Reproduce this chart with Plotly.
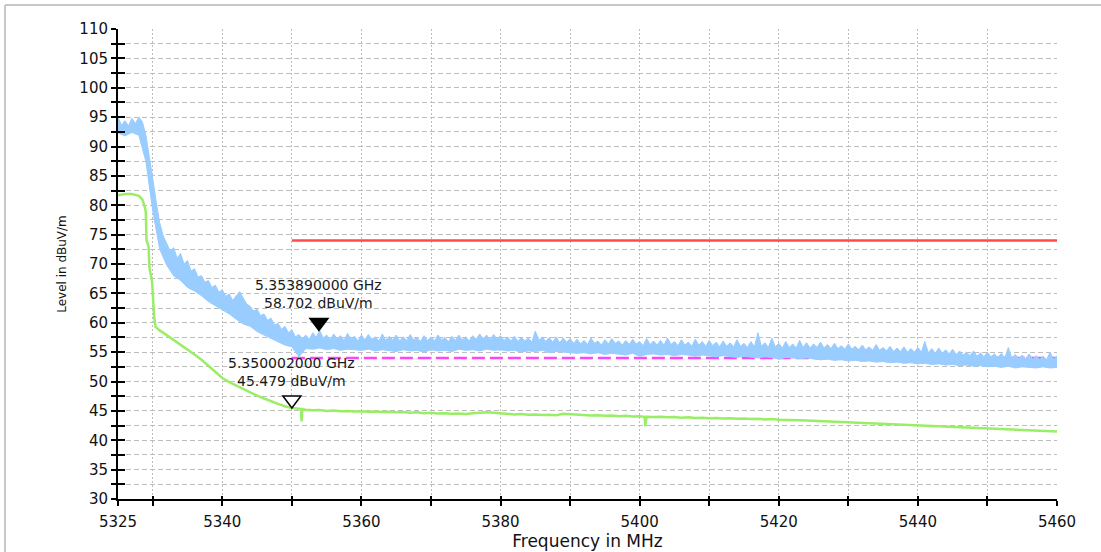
import numpy as np
import plotly.graph_objects as go

# ---------------- data ----------------
x_tick_vals = [5325, 5330, 5340, 5350, 5360, 5370, 5380, 5390, 5400, 5410, 5420, 5430, 5440, 5450, 5460]
x_tick_text = ['5325', '', '5340', '', '5360', '', '5380', '', '5400', '', '5420', '', '5440', '', '5460']
y_major = [30, 35, 40, 45, 50, 55, 60, 65, 70, 75, 80, 85, 90, 95, 100, 105, 110]

# peak detector trace (blue): upper envelope every 0.5 MHz, lower envelope every 1 MHz, from 5325 MHz
peak_start = 5325.0
peak_upper = [
    95.0, 93.6, 94.4, 93.5, 94.8, 93.9, 95.0, 94.2, 92.0, 88.5,
    84.5, 80.5, 77.0, 74.8, 73.5, 72.2, 72.8, 71.0, 71.8, 70.0,
    70.6, 68.8, 69.2, 67.8, 68.0, 66.9, 67.2, 66.0, 66.4, 65.2,
    65.6, 64.5, 64.9, 63.8, 64.6, 65.3, 64.2, 63.2, 62.8, 62.0,
    62.3, 61.2, 61.5, 60.4, 60.8, 59.6, 59.9, 58.9, 59.4, 58.3,
    58.8, 57.6, 58.0, 57.3, 57.9, 57.2, 58.3, 57.5, 58.7, 57.4,
    57.9, 57.1, 58.1, 57.3, 57.8, 57.0, 58.2, 57.2, 57.7, 56.9,
    57.9, 57.1, 58.0, 57.2, 57.6, 56.9, 58.1, 57.0, 57.7, 57.1,
    57.9, 56.9, 57.6, 57.0, 58.0, 57.1, 57.5, 56.8, 57.8, 57.0,
    57.6, 56.9, 57.9, 57.1, 57.5, 56.8, 57.7, 57.0, 57.9, 57.1,
    57.6, 56.9, 57.8, 57.2, 58.1, 57.3, 57.9, 57.1, 58.0, 57.2,
    57.8, 57.0, 57.6, 56.9, 57.7, 56.8, 57.5, 56.9, 57.4, 56.7,
    58.6, 57.0, 57.6, 56.8, 57.5, 56.7, 57.6, 56.6, 57.4, 56.7,
    57.3, 56.5, 57.2, 56.4, 57.0, 56.3, 57.4, 56.5, 56.9, 56.2,
    57.1, 56.4, 57.3, 56.5, 56.9, 56.2, 57.0, 56.3, 57.2, 56.4,
    56.8, 56.1, 57.3, 56.3, 56.9, 56.2, 57.0, 56.2, 57.4, 56.3,
    56.8, 56.1, 57.1, 56.2, 56.7, 56.0, 57.2, 56.2, 56.8, 56.0,
    57.0, 56.1, 56.7, 55.9, 56.9, 56.0, 56.6, 55.9, 57.1, 56.0,
    56.5, 55.8, 56.8, 55.9, 58.3, 56.0, 56.6, 55.8, 57.4, 55.9,
    56.5, 55.7, 56.8, 55.8, 56.4, 55.7, 57.0, 55.8, 56.6, 55.7,
    56.4, 55.8, 56.7, 55.7, 56.3, 55.6, 56.5, 55.6, 56.1, 55.5,
    56.4, 55.5, 56.0, 55.4, 56.2, 55.4, 55.9, 55.3, 56.3, 55.3,
    55.8, 55.2, 56.0, 55.1, 55.7, 55.1, 55.9, 55.0, 55.6, 55.0,
    55.8, 55.0, 56.8, 54.9, 55.6, 54.8, 55.7, 54.8, 55.4, 54.7,
    55.5, 54.6, 55.2, 54.5, 55.0, 54.4, 55.2, 54.3, 54.9, 54.2,
    55.0, 54.2, 54.7, 54.1, 54.8, 54.0, 55.8, 54.0, 54.6, 53.9,
    54.5, 53.9, 54.7, 53.8, 54.4, 53.8, 54.3, 53.7, 55.0, 53.8,
    54.4,
]
peak_lower = [
    92.3, 91.8, 92.4, 91.9, 87.5, 79.0, 72.5, 69.8, 68.0, 67.2,
    66.0, 65.4, 64.6, 63.6, 62.9, 62.2, 61.5, 60.6, 59.8, 59.4,
    58.5, 57.9, 57.3, 56.8, 56.2, 55.9, 54.2, 55.6, 55.5, 55.7,
    55.4, 55.6, 55.3, 55.5, 55.4, 55.3, 55.5, 55.2, 55.4, 55.3,
    55.1, 55.4, 55.2, 55.3, 55.0, 55.4, 55.2, 55.3, 55.1, 55.5,
    55.3, 55.4, 55.2, 55.5, 55.3, 55.4, 55.2, 55.3, 55.0, 55.2,
    55.1, 55.3, 54.9, 55.1, 55.0, 54.9, 54.8, 54.9, 54.7, 54.9,
    54.6, 54.8, 54.7, 54.5, 54.8, 54.3, 54.6, 54.7, 54.5, 54.6,
    54.4, 54.6, 54.5, 54.3, 54.5, 54.4, 54.2, 54.4, 54.3, 54.1,
    54.3, 54.2, 54.0, 54.2, 54.1, 53.8, 54.1, 54.0, 53.9, 54.0,
    53.8, 53.7, 53.8, 53.6, 53.7, 53.5, 53.6, 53.4, 53.5, 53.3,
    53.4, 53.2, 53.3, 53.1, 53.2, 53.0, 53.1, 52.9, 53.0, 52.8,
    52.9, 52.7, 52.8, 52.6, 52.7, 52.5, 52.6, 52.4, 52.6, 52.3,
    52.5, 52.4, 52.3, 52.5, 52.3, 52.4,
]

# average detector trace (green)
avg_freq = ([5325, 5326, 5327, 5328, 5328.5, 5328.9, 5329.0, 5329.1, 5329.4, 5329.5, 5329.9,
             5330.0, 5330.2, 5330.4]
            + list(range(5331, 5352))
            + [5351.3, 5351.4, 5351.5]
            + list(range(5352, 5401))
            + [5400.7, 5400.8, 5400.9]
            + list(range(5401, 5461)))
avg_level = [
    81.7, 81.9, 81.9, 81.6, 81.0, 79.5, 78.7, 74.0, 73.0, 69.5, 67.0,
    63.9, 61.0, 59.3,
    58.7, 57.9, 57.1, 56.3, 55.4, 54.6, 53.7, 52.7, 51.6, 50.6,
    49.9, 49.3, 48.7, 48.1, 47.6, 47.1, 46.6, 46.2, 45.8, 45.48,
    45.35,
    45.3, 43.2, 45.3,
    45.2, 45.1, 45.15, 45.0, 45.05, 44.95, 45.0, 44.9, 44.95, 44.85,
    44.9, 44.8, 44.85, 44.75, 44.8, 44.7, 44.75, 44.6, 44.7, 44.55,
    44.6, 44.5, 44.55, 44.45, 44.6, 44.7, 44.75, 44.7, 44.6, 44.5,
    44.4, 44.45, 44.35, 44.4, 44.3, 44.35, 44.25, 44.5, 44.4, 44.3,
    44.25, 44.2, 44.25, 44.15, 44.2, 44.1, 44.15, 44.05, 44.1,
    44.0, 42.4, 44.0,
    44.0, 43.95, 44.0, 43.9, 43.95, 43.85, 43.9, 43.8, 43.85, 43.75,
    43.8, 43.7, 43.75, 43.65, 43.7, 43.6, 43.65, 43.55, 43.6, 43.5,
    43.5, 43.45, 43.4, 43.35, 43.3, 43.25, 43.2, 43.2, 43.1, 43.05,
    43.0, 42.95, 42.9, 42.85, 42.8, 42.8, 42.7, 42.65, 42.6, 42.6,
    42.5, 42.45, 42.4, 42.35, 42.3, 42.25, 42.2, 42.15, 42.1, 42.0,
    41.95, 41.9, 41.85, 41.8, 41.75, 41.7, 41.65, 41.6, 41.55, 41.5,
]

limit_freq = [5350, 5460]
limit_peak = [74, 74]
limit_avg = [54, 54]

marker_freq = [5353.89, 5350.002]
marker_level = [58.702, 45.479]
marker_text = ['5.353890000 GHz<br>58.702 dBuV/m', '5.350002000 GHz<br>45.479 dBuV/m']
marker_filled = [True, False]

# ---------------- figure ----------------
FONT = 'DejaVu Sans'
peak_upper_freq = peak_start + 0.5 * np.arange(len(peak_upper))
peak_lower_freq = peak_start + 1.0 * np.arange(len(peak_lower))
y_tick_vals = list(np.arange(y_major[0], y_major[-1] + 0.1, 2.5))
y_tick_text = [str(int(v)) if float(v).is_integer() and int(v) in y_major else '' for v in y_tick_vals]

fig = go.Figure()
fig.add_trace(go.Scatter(x=limit_freq, y=limit_avg, mode='lines',
                         line=dict(color='#FF44FF', width=2.5, dash='13px,5px'), hoverinfo='skip'))
fig.add_trace(go.Scatter(x=limit_freq, y=limit_peak, mode='lines',
                         line=dict(color='#FF4B4B', width=2.5), hoverinfo='skip'))
fig.add_trace(go.Scatter(x=peak_lower_freq, y=peak_lower, mode='lines',
                         line=dict(color='#99CCFF', width=1), hoverinfo='skip'))
fig.add_trace(go.Scatter(x=peak_upper_freq, y=peak_upper, mode='lines', fill='tonexty',
                         fillcolor='#99CCFF', line=dict(color='#99CCFF', width=1), hoverinfo='skip'))
fig.add_trace(go.Scatter(x=avg_freq, y=avg_level, mode='lines',
                         line=dict(color='#99EE66', width=2.5), hoverinfo='skip'))
# marker points (carry the overlay axes that draw the inner half of the crossing ticks)
fig.add_trace(go.Scatter(x=marker_freq, y=marker_level, mode='markers', marker=dict(size=1, opacity=0),
                         xaxis='x2', yaxis='y2', hoverinfo='skip'))

shapes = []
annotations = []
for f, v, filled, txt in zip(marker_freq, marker_level, marker_filled, marker_text):
    shapes.append(dict(type='path', xref='x', yref='y', xsizemode='pixel', ysizemode='pixel',
                       xanchor=f, yanchor=v, path='M -9 12 L 9 12 L 0 0 Z',
                       fillcolor='black' if filled else 'white',
                       line=dict(color='black', width=1.5), layer='above'))
    annotations.append(dict(x=f, y=v, xref='x', yref='y', text=txt, showarrow=False,
                            xanchor='center', yanchor='bottom', yshift=17,
                            font=dict(family=FONT, size=14, color='#1a1a1a')))

# light frame around the chart
shapes.append(dict(type='line', xref='paper', yref='paper', x0=-0.1203, x1=1.06, y0=1.0511, y1=1.0511,
                   line=dict(color='#C8C8C8', width=2)))
shapes.append(dict(type='line', xref='paper', yref='paper', x0=-0.1203, x1=-0.1203, y0=-0.12, y1=1.0511,
                   line=dict(color='#C8C8C8', width=2)))

grid_color = '#BDBDBD'
fig.update_layout(
    template='none',
    width=1101, height=552, autosize=False,
    margin=dict(l=118, r=44, t=29, b=53, pad=0),
    paper_bgcolor='white', plot_bgcolor='white',
    showlegend=False,
    font=dict(family=FONT, color='#111111'),
    shapes=shapes,
    annotations=annotations,
    xaxis=dict(range=[5325, 5460], tickmode='array', tickvals=x_tick_vals, ticktext=x_tick_text,
               automargin=False,
               ticks='outside', ticklen=5, tickwidth=2, tickcolor='black',
               showline=True, linewidth=2, linecolor='black', zeroline=False,
               showgrid=True, gridcolor=grid_color, gridwidth=1, griddash='2px,2px',
               tickfont=dict(family=FONT, size=15, color='#111111'), ticklabelstandoff=3,
               title=dict(text='Frequency in MHz', font=dict(family=FONT, size=17, color='#111111'), standoff=2)),
    yaxis=dict(range=[30, 110], tickmode='array', tickvals=y_tick_vals, ticktext=y_tick_text,
               automargin=False,
               ticks='outside', ticklen=5, tickwidth=2, tickcolor='black',
               showline=True, linewidth=2, linecolor='black', zeroline=False,
               showgrid=True, gridcolor=grid_color, gridwidth=1, griddash='5px,3px',
               tickfont=dict(family=FONT, size=15, color='#111111'),
               title=dict(text='Level in dBuV/m', font=dict(family=FONT, size=12, color='#111111'), standoff=10)),
    xaxis2=dict(overlaying='x', anchor='y', side='bottom', range=[5325, 5460], tickmode='array',
                tickvals=x_tick_vals, ticks='inside', ticklen=3, tickwidth=2, tickcolor='black',
                showticklabels=False, showgrid=False, showline=False, zeroline=False, automargin=False),
    yaxis2=dict(overlaying='y', anchor='x', side='left', range=[30, 110], tickmode='array',
                tickvals=y_tick_vals, ticks='inside', ticklen=7, tickwidth=2, tickcolor='black',
                showticklabels=False, showgrid=False, showline=False, zeroline=False, automargin=False),
)

fig.write_html('out.html', config={'displayModeBar': False},
               post_script="document.body.style.margin='0px';document.body.style.overflow='hidden';")
